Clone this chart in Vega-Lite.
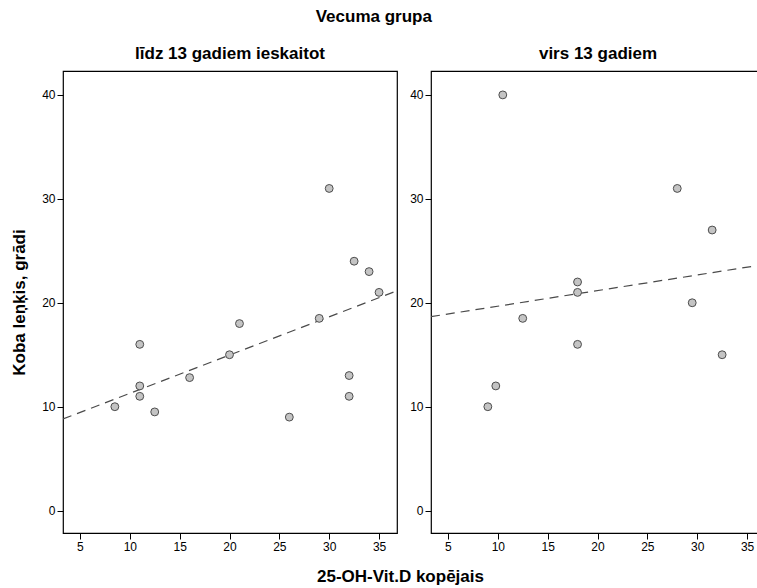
{
  "$schema": "https://vega.github.io/schema/vega-lite/v6.json",
  "background": "white",
  "padding": {"left": 10, "top": 8, "right": 0, "bottom": 0},
  "config": {
    "font": "Liberation Sans",
    "view": {"stroke": "#000", "strokeWidth": 1.2},
    "axis": {
      "domain": false,
      "grid": false,
      "labelFont": "Liberation Sans",
      "labelFontSize": 12,
      "labelColor": "#000",
      "tickColor": "#000",
      "tickSize": 6,
      "labelPadding": 2,
      "titleFont": "Liberation Sans",
      "titleFontSize": 17,
      "titleFontWeight": "bold",
      "titleColor": "#000"
    },
    "title": {"font": "Liberation Sans", "fontSize": 17, "fontWeight": "bold", "color": "#000"}
  },
  "title": {"text": "Vecuma grupa", "anchor": "middle", "offset": 18, "dx": -14},
  "datasets": {
    "points": [
      {"grupa": "līdz 13 gadiem ieskaitot", "vitd": 8.5, "lenkis": 10},
      {"grupa": "līdz 13 gadiem ieskaitot", "vitd": 11, "lenkis": 16},
      {"grupa": "līdz 13 gadiem ieskaitot", "vitd": 11, "lenkis": 12},
      {"grupa": "līdz 13 gadiem ieskaitot", "vitd": 11, "lenkis": 11},
      {"grupa": "līdz 13 gadiem ieskaitot", "vitd": 12.5, "lenkis": 9.5},
      {"grupa": "līdz 13 gadiem ieskaitot", "vitd": 16, "lenkis": 12.8},
      {"grupa": "līdz 13 gadiem ieskaitot", "vitd": 20, "lenkis": 15},
      {"grupa": "līdz 13 gadiem ieskaitot", "vitd": 21, "lenkis": 18},
      {"grupa": "līdz 13 gadiem ieskaitot", "vitd": 26, "lenkis": 9},
      {"grupa": "līdz 13 gadiem ieskaitot", "vitd": 29, "lenkis": 18.5},
      {"grupa": "līdz 13 gadiem ieskaitot", "vitd": 30, "lenkis": 31},
      {"grupa": "līdz 13 gadiem ieskaitot", "vitd": 32, "lenkis": 13},
      {"grupa": "līdz 13 gadiem ieskaitot", "vitd": 32, "lenkis": 11},
      {"grupa": "līdz 13 gadiem ieskaitot", "vitd": 32.5, "lenkis": 24},
      {"grupa": "līdz 13 gadiem ieskaitot", "vitd": 34, "lenkis": 23},
      {"grupa": "līdz 13 gadiem ieskaitot", "vitd": 35, "lenkis": 21},
      {"grupa": "virs 13 gadiem", "vitd": 10.5, "lenkis": 40},
      {"grupa": "virs 13 gadiem", "vitd": 9, "lenkis": 10},
      {"grupa": "virs 13 gadiem", "vitd": 9.8, "lenkis": 12},
      {"grupa": "virs 13 gadiem", "vitd": 12.5, "lenkis": 18.5},
      {"grupa": "virs 13 gadiem", "vitd": 18, "lenkis": 22},
      {"grupa": "virs 13 gadiem", "vitd": 18, "lenkis": 21},
      {"grupa": "virs 13 gadiem", "vitd": 18, "lenkis": 16},
      {"grupa": "virs 13 gadiem", "vitd": 28, "lenkis": 31},
      {"grupa": "virs 13 gadiem", "vitd": 29.5, "lenkis": 20},
      {"grupa": "virs 13 gadiem", "vitd": 31.5, "lenkis": 27},
      {"grupa": "virs 13 gadiem", "vitd": 32.5, "lenkis": 15}
    ]
  },
  "data": {"name": "points"},
  "spacing": 34,
  "bounds": "flush",
  "hconcat": [
    {
      "width": 334,
      "height": 462,
      "title": {"text": "līdz 13 gadiem ieskaitot", "offset": 8},
      "transform": [{"filter": "datum.grupa === 'līdz 13 gadiem ieskaitot'"}],
      "layer": [
        {
          "transform": [{"regression": "lenkis", "on": "vitd", "extent": [3.3, 36.8]}],
          "mark": {"type": "line", "color": "#4a4a4a", "strokeDash": [9, 6], "strokeWidth": 1.2, "clip": true},
          "encoding": {
            "x": {"field": "vitd", "type": "quantitative", "scale": {"domain": [3.3, 36.8], "nice": false, "zero": false}, "axis": {"values": [5, 10, 15, 20, 25, 30, 35], "title": "25-OH-Vit.D kopējais", "titleX": 337, "titlePadding": 16}},
            "y": {"field": "lenkis", "type": "quantitative", "scale": {"domain": [-2.15, 42.3], "nice": false, "zero": false}, "axis": {"values": [0, 10, 20, 30, 40], "title": "Koba leņķis, grādi", "titlePadding": 13}}
          }
        },
        {
          "mark": {"type": "circle", "fill": "#c4c4c4", "stroke": "#4d4d4d", "strokeWidth": 1, "size": 62, "opacity": 1},
          "encoding": {
            "x": {"field": "vitd", "type": "quantitative"},
            "y": {"field": "lenkis", "type": "quantitative"}
          }
        }
      ]
    },
    {
      "width": 334,
      "height": 462,
      "title": {"text": "virs 13 gadiem", "offset": 8},
      "transform": [{"filter": "datum.grupa === 'virs 13 gadiem'"}],
      "layer": [
        {
          "transform": [{"regression": "lenkis", "on": "vitd", "extent": [3.3, 36.8]}],
          "mark": {"type": "line", "color": "#4a4a4a", "strokeDash": [9, 6], "strokeWidth": 1.2, "clip": true},
          "encoding": {
            "x": {"field": "vitd", "type": "quantitative", "scale": {"domain": [3.3, 36.8], "nice": false, "zero": false}, "axis": {"values": [5, 10, 15, 20, 25, 30, 35], "title": null}},
            "y": {"field": "lenkis", "type": "quantitative", "scale": {"domain": [-2.15, 42.3], "nice": false, "zero": false}, "axis": {"values": [0, 10, 20, 30, 40], "title": null}}
          }
        },
        {
          "mark": {"type": "circle", "fill": "#c4c4c4", "stroke": "#4d4d4d", "strokeWidth": 1, "size": 62, "opacity": 1},
          "encoding": {
            "x": {"field": "vitd", "type": "quantitative"},
            "y": {"field": "lenkis", "type": "quantitative"}
          }
        }
      ]
    }
  ]
}
